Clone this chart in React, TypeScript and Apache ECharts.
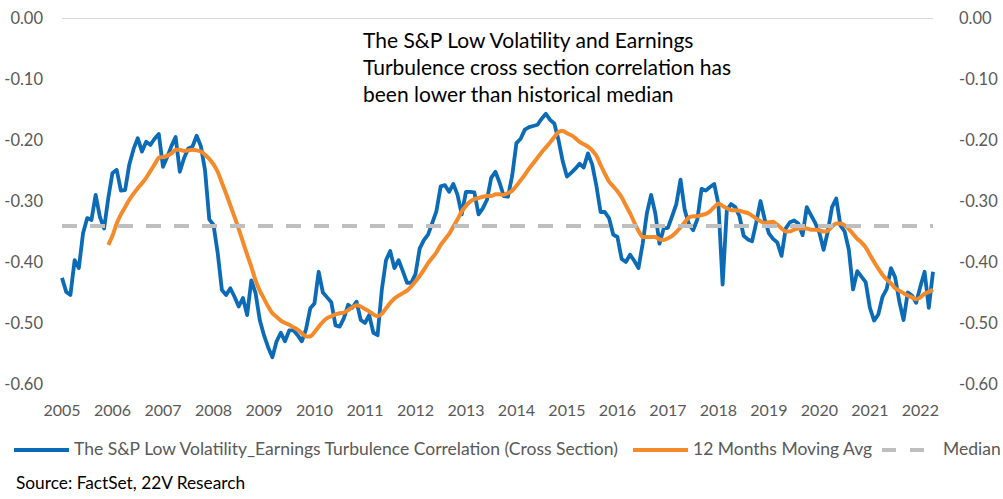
import React, { useEffect, useRef } from "react";
import * as echarts from "echarts";

const YEARS = ["2005","2006","2007","2008","2009","2010","2011","2012","2013","2014","2015","2016","2017","2018","2019","2020","2021","2022"];
const MONTHS = ["01","02","03","04","05","06","07","08","09","10","11","12"];
const LAST_MONTH_2022 = 4;

const CORRELATION = [
  -0.426,-0.449,-0.454,-0.397,-0.41,-0.353,-0.328,-0.331,-0.29,-0.326,-0.345,
  -0.295,-0.254,-0.249,-0.283,-0.282,-0.24,-0.215,-0.197,-0.219,-0.203,
  -0.208,-0.198,-0.19,-0.244,-0.228,-0.21,-0.195,-0.252,-0.23,-0.214,
  -0.211,-0.193,-0.21,-0.25,-0.33,-0.339,-0.385,-0.446,-0.454,-0.443,
  -0.457,-0.473,-0.459,-0.487,-0.43,-0.451,-0.495,-0.52,-0.54,-0.556,
  -0.53,-0.516,-0.53,-0.512,-0.512,-0.52,-0.53,-0.51,-0.476,-0.468,
  -0.416,-0.45,-0.458,-0.466,-0.504,-0.506,-0.492,-0.47,-0.475,-0.465,
  -0.495,-0.5,-0.487,-0.516,-0.52,-0.446,-0.397,-0.382,-0.41,-0.397,
  -0.415,-0.434,-0.434,-0.42,-0.378,-0.364,-0.355,-0.336,-0.316,-0.276,
  -0.274,-0.285,-0.272,-0.29,-0.322,-0.285,-0.285,-0.286,-0.322,-0.312,
  -0.298,-0.262,-0.252,-0.27,-0.292,-0.293,-0.258,-0.205,-0.198,-0.183,
  -0.179,-0.177,-0.175,-0.165,-0.157,-0.167,-0.173,-0.2,-0.235,-0.26,
  -0.254,-0.247,-0.239,-0.245,-0.222,-0.24,-0.275,-0.318,-0.318,-0.328,
  -0.355,-0.359,-0.395,-0.4,-0.388,-0.398,-0.41,-0.37,-0.32,-0.29,
  -0.32,-0.37,-0.345,-0.344,-0.325,-0.305,-0.265,-0.315,-0.338,-0.348,
  -0.33,-0.28,-0.283,-0.277,-0.272,-0.305,-0.437,-0.315,-0.305,-0.31,
  -0.325,-0.357,-0.363,-0.366,-0.335,-0.3,-0.33,-0.353,-0.362,-0.368,
  -0.39,-0.345,-0.335,-0.332,-0.337,-0.356,-0.31,-0.323,-0.336,-0.352,
  -0.38,-0.35,-0.31,-0.296,-0.34,-0.35,-0.38,-0.445,-0.415,-0.424,
  -0.433,-0.475,-0.496,-0.486,-0.457,-0.444,-0.41,-0.425,-0.465,-0.495,
  -0.45,-0.455,-0.467,-0.44,-0.416,-0.475,-0.416
];

const MA_OFFSET = 11;
const MOVING_AVG = [
  -0.372,-0.357,-0.337,-0.322,-0.31,-0.298,-0.288,-0.279,-0.271,-0.262,
  -0.251,-0.24,-0.229,-0.228,-0.226,-0.222,-0.216,-0.216,-0.218,-0.217,
  -0.216,-0.217,-0.219,-0.224,-0.231,-0.24,-0.252,-0.27,-0.288,-0.307,
  -0.326,-0.346,-0.367,-0.388,-0.408,-0.43,-0.447,-0.46,-0.473,-0.484,
  -0.49,-0.496,-0.5,-0.503,-0.507,-0.511,-0.517,-0.522,-0.522,-0.515,
  -0.506,-0.498,-0.492,-0.489,-0.486,-0.484,-0.483,-0.479,-0.474,-0.471,
  -0.473,-0.477,-0.481,-0.486,-0.489,-0.485,-0.476,-0.467,-0.46,-0.455,
  -0.451,-0.447,-0.44,-0.432,-0.423,-0.413,-0.402,-0.393,-0.384,-0.372,
  -0.363,-0.354,-0.342,-0.33,-0.317,-0.308,-0.301,-0.297,-0.295,-0.293,
  -0.292,-0.292,-0.289,-0.289,-0.29,-0.287,-0.283,-0.275,-0.266,-0.257,
  -0.247,-0.238,-0.229,-0.22,-0.212,-0.204,-0.195,-0.187,-0.185,-0.189,
  -0.192,-0.197,-0.203,-0.207,-0.211,-0.217,-0.226,-0.241,-0.255,-0.268,
  -0.276,-0.284,-0.294,-0.307,-0.32,-0.335,-0.349,-0.359,-0.359,-0.359,
  -0.359,-0.363,-0.364,-0.361,-0.357,-0.351,-0.343,-0.335,-0.327,-0.325,
  -0.325,-0.323,-0.321,-0.317,-0.31,-0.304,-0.308,-0.312,-0.315,-0.315,
  -0.316,-0.318,-0.32,-0.324,-0.329,-0.333,-0.336,-0.335,-0.334,-0.339,
  -0.345,-0.35,-0.35,-0.347,-0.345,-0.345,-0.345,-0.347,-0.347,-0.348,
  -0.35,-0.349,-0.342,-0.337,-0.337,-0.34,-0.346,-0.354,-0.362,-0.368,
  -0.376,-0.388,-0.4,-0.411,-0.421,-0.429,-0.435,-0.443,-0.447,-0.451,
  -0.455,-0.458,-0.461,-0.458,-0.452,-0.449,-0.445
];

const MEDIAN = -0.338;
const Y_TICKS = ["0.00","-0.10","-0.20","-0.30","-0.40","-0.50","-0.60"];

const SERIES_NAMES = [
  "The S&P Low Volatility_Earnings Turbulence Correlation (Cross Section)",
  "12 Months Moving Avg",
  "Median",
];
const ANNOTATION = [
  "The S&P Low Volatility and Earnings",
  "Turbulence cross section correlation has",
  "been lower than historical median",
];
const SOURCE = "Source: FactSet, 22V Research";

const BLUE = "#0B6BB6";
const ORANGE = "#F58A2B";
const GRAY = "#BFBFBF";
const FONT = "Lato, 'Open Sans', sans-serif";

function buildCategories(): string[] {
  const out: string[] = [];
  YEARS.forEach((y, yi) => {
    MONTHS.forEach((m, mi) => {
      if (yi === YEARS.length - 1 && mi >= LAST_MONTH_2022) return;
      out.push(`${y}-${m}`);
    });
  });
  return out;
}

export default function App() {
  const ref = useRef<HTMLDivElement>(null);
  useEffect(() => {
    if (!ref.current) return;
    const chart = echarts.init(ref.current, undefined, { renderer: "svg" });
    const categories = buildCategories();
    const maData: (number | null)[] = [];
    for (let i = 0; i < MA_OFFSET; i++) maData.push(null);
    MOVING_AVG.forEach((v) => maData.push(v));

    const yLabel = (v: number) => {
      const idx = Math.round(-v * 10);
      return Y_TICKS[idx] ?? "";
    };
    const yAxisBase = {
      type: "value",
      min: -0.6,
      max: 0,
      interval: 0.1,
      splitLine: { show: false },
      axisLine: { show: false },
      axisTick: { show: false },
    };

    const legendY = 450;
    const legendFont = `17.5px ${FONT}`;
    chart.setOption({
      animation: false,
      backgroundColor: "#ffffff",
      grid: { left: 62, right: 70, top: 18, bottom: 115, containLabel: false },
      xAxis: {
        type: "category",
        data: categories,
        boundaryGap: false,
        axisLine: { show: false },
        axisTick: { show: false },
        splitLine: { show: false },
        axisLabel: {
          interval: (index: number) => index % 12 === 0,
          formatter: (val: string) => val.slice(0, 4),
          color: "#595959",
          fontFamily: FONT,
          fontSize: 16,
          margin: 17,
        },
      },
      yAxis: [
        {
          ...yAxisBase,
          position: "left",
          axisLabel: { formatter: yLabel, color: "#595959", fontFamily: FONT, fontSize: 16.5, margin: 19 },
        },
        {
          ...yAxisBase,
          position: "right",
          axisLabel: { formatter: yLabel, color: "#595959", fontFamily: FONT, fontSize: 16.5, margin: 26 },
        },
      ],
      series: [
        {
          name: SERIES_NAMES[2],
          type: "line",
          data: [],
          z: 1,
          silent: true,
          markLine: {
            silent: true,
            symbol: "none",
            label: { show: false },
            data: [
              { yAxis: 0, lineStyle: { color: "#D9D9D9", width: 1, type: "solid" } },
              { yAxis: MEDIAN, lineStyle: { color: GRAY, width: 4, type: [15, 13] } },
            ],
          },
        },
        {
          name: SERIES_NAMES[0],
          type: "line",
          data: CORRELATION,
          showSymbol: false,
          symbol: "none",
          z: 2,
          lineStyle: { color: BLUE, width: 3.8, join: "round" },
        },
        {
          name: SERIES_NAMES[1],
          type: "line",
          data: maData,
          showSymbol: false,
          symbol: "none",
          smooth: 0.2,
          z: 3,
          lineStyle: { color: ORANGE, width: 4, join: "round" },
        },
      ],
      graphic: [
        ...ANNOTATION.map((t, i) => ({
          type: "text",
          left: 363,
          top: 29 + i * 27,
          style: { text: t, fill: "#000000", font: `21px ${FONT}` },
        })),
        { type: "line", shape: { x1: 14, y1: legendY, x2: 69, y2: legendY }, style: { stroke: BLUE, lineWidth: 4 } },
        { type: "text", left: 74, top: legendY - 11, style: { text: SERIES_NAMES[0], fill: "#595959", font: legendFont } },
        { type: "line", shape: { x1: 633, y1: legendY, x2: 688, y2: legendY }, style: { stroke: ORANGE, lineWidth: 4 } },
        { type: "text", left: 693, top: legendY - 11, style: { text: SERIES_NAMES[1], fill: "#595959", font: legendFont } },
        { type: "line", shape: { x1: 882, y1: legendY, x2: 924, y2: legendY }, style: { stroke: GRAY, lineWidth: 4, lineDash: [14, 14] } },
        { type: "text", left: 943, top: legendY - 11, style: { text: SERIES_NAMES[2], fill: "#595959", font: legendFont } },
        { type: "text", left: 16, top: 474, style: { text: SOURCE, fill: "#000000", font: `17.3px ${FONT}` } },
      ],
    });
    return () => chart.dispose();
  }, []);
  return (
    <div
      ref={ref}
      style={{ position: "fixed", left: 0, top: 0, width: 1003, height: 499, background: "#fff" }}
    />
  );
}
